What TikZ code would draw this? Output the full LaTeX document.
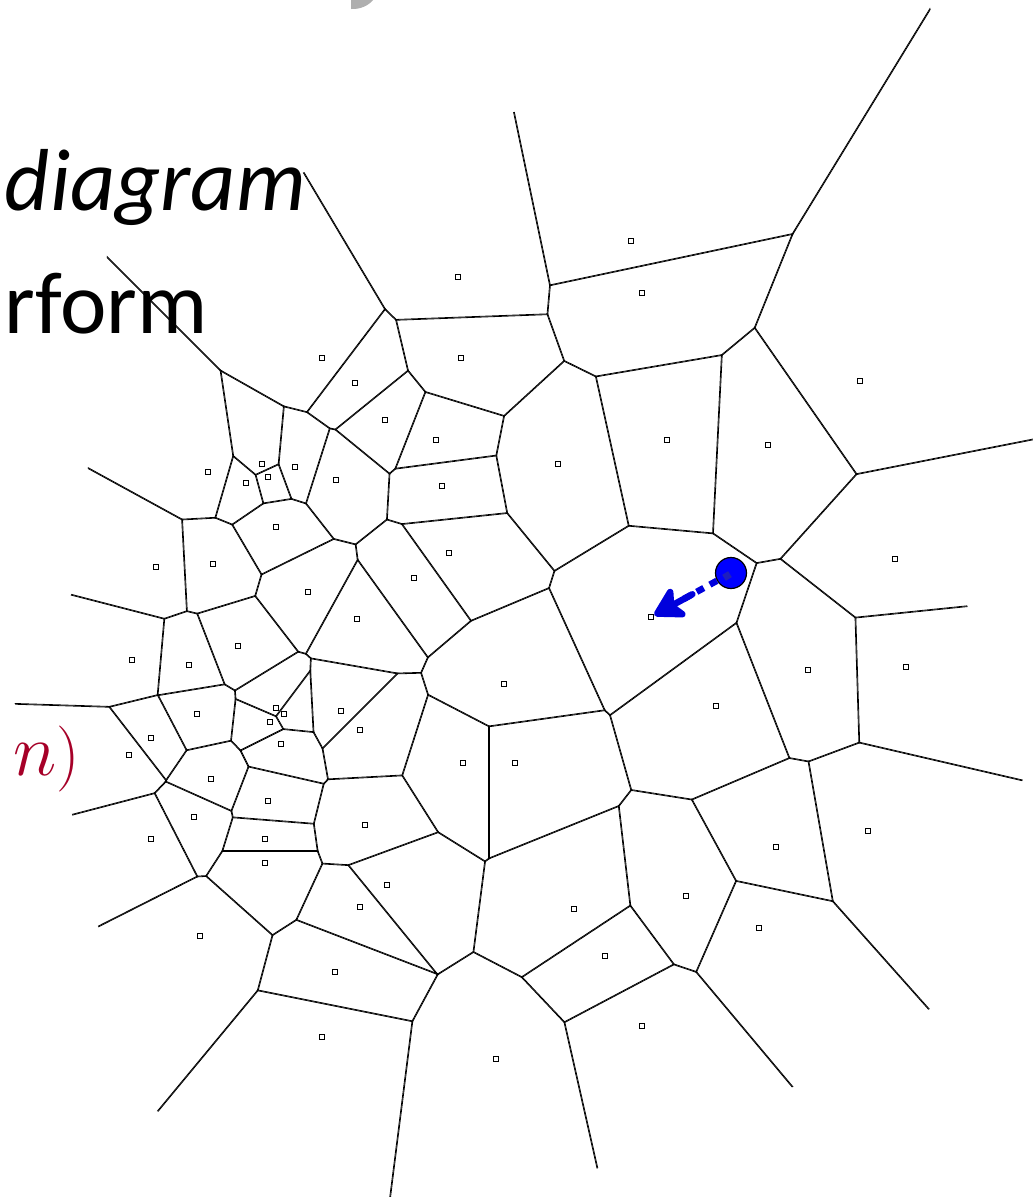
\RequirePackage{fix-cm}
\documentclass[tikz,border=0pt]{standalone}
\usepackage{fontspec}
\setmainfont{Carlito}
\usetikzlibrary{arrows.meta}
\definecolor{qblue}{RGB}{0,0,220}
\definecolor{dotblue}{RGB}{0,0,255}
\definecolor{markblue}{RGB}{30,30,190}
\definecolor{tred}{RGB}{166,0,40}
\definecolor{blobgray}{RGB}{175,175,175}

% half-plane / bisector geometry of two sites (pixel units, doubled)
\newcommand\vorcalc[4]{%
  \edef\vdx{\the\numexpr#1-(#3)\relax}%
  \edef\vdy{\the\numexpr#2-(#4)\relax}%
  \ifnum\vdx<0 \edef\vadx{\the\numexpr0-\vdx\relax}\else\let\vadx\vdx\fi
  \ifnum\vdy<0 \edef\vady{\the\numexpr0-\vdy\relax}\else\let\vady\vdy\fi
  \edef\vK{\the\numexpr4000/(\vadx+\vady)\relax}%
  \edef\vax{\the\numexpr#1+#3-2*\vK*\vdy\relax}%
  \edef\vay{\the\numexpr#2+#4+2*\vK*\vdx\relax}%
  \edef\vbx{\the\numexpr#1+#3+2*\vK*\vdy\relax}%
  \edef\vby{\the\numexpr#2+#4-2*\vK*\vdx\relax}%
  \edef\vnx{\the\numexpr2*\vK*\vdx\relax}%
  \edef\vny{\the\numexpr2*\vK*\vdy\relax}%
}
\newcommand\vorpt[2]{\pgfqpoint{\dimexpr\numexpr#1\relax pt/2\relax}{\dimexpr\numexpr0-(#2)\relax pt/2\relax}}

\def\vsites{631/241,458/277,642/293,322/358,461/358,355/383,860/381,385/420,436/440,667/440,768/445,208/472,262/464,295/467,268/477,246/483,336/480,442/486,558/464,276/527,449/553,156/567,213/564,895/559,414/578,308/592,357/619,651/617,238/646,132/660,189/665,504/684,808/670,906/667,716/706,197/714,276/708,284/714,270/722,341/711,360/730,151/738,129/755,281/744,463/763,515/763,211/779,268/801,194/817,365/825,151/839,265/839,868/831,776/847,265/863,387/885,686/896,360/907,574/909,759/928,200/936,605/956,335/972,642/1026,322/1037,496/1059}

\tikzset{
  site/.style={draw=black, fill=white, line width=1.3pt, minimum size=5.4pt, inner sep=0pt, rectangle},
  qdotstyle/.style={circle, fill=dotblue, draw=black, line width=1.2pt, minimum size=31pt, inner sep=0pt},
  qmarkstyle/.style={rectangle, fill=markblue, minimum size=7pt, inner sep=0pt, rotate=32},
  qdash/.style={draw=qblue, line width=6.5pt, dash pattern=on 8pt off 7pt, shorten >=29pt},
  qtip/.style={draw=qblue, fill=qblue, line width=6.5pt, line cap=round, shorten <=28pt,
    -{Stealth[length=35pt, width=40pt, inset=9pt, round]}},
  bigtext/.style={inner sep=0pt, font=\fontsize{88}{96}\selectfont},
}

\begin{document}
\begin{tikzpicture}[x=1pt, y=-1pt]
\path[use as bounding box, fill=white] (0,0) rectangle (1033,1197);

% grey fragment at the top
\fill[blobgray] (351,0) -- (351,9) .. controls (361,9.5) and (369,5) .. (373,0) -- cycle;

% slide texts
\node[bigtext, anchor=base east, font=\fontsize{88}{96}\selectfont\itshape] (tdiag) at (306,210) {diagram};
\node[bigtext, anchor=base east] (tform) at (208,333) {rform};
\node[anchor=base west, inner sep=0pt, text=tred] (tn) at (13,775)
  {{\fontsize{74}{80}\selectfont$n$}{\fontsize{66}{72}\selectfont$)$}};

% Voronoi diagram: each cell = intersection of half-planes, its bisectors drawn inside it
\begin{scope}[line width=1.6pt]
\clip (107,255) -- (307,171) -- (514,112) -- (927,-4) -- (1041,436) -- (967,605)
  -- (1023,779) -- (933,1007) -- (795,1086) -- (600,1168) -- (392,1203)
  -- (157,1111) -- (98,926) -- (72,814) -- (14,702) -- (73,591) -- (88,467) -- cycle;
\foreach \pxa/\pya in \vsites {%
  \begin{pgfscope}%
  \foreach \pxb/\pyb in \vsites {%
    \ifnum\numexpr(\pxa-\pxb)*(\pxa-\pxb)+(\pya-\pyb)*(\pya-\pyb)\relax>0
      \vorcalc{\pxa}{\pya}{\pxb}{\pyb}%
      \pgfpathmoveto{\vorpt{\vax}{\vay}}%
      \pgfpathlineto{\vorpt{\vbx}{\vby}}%
      \pgfpathlineto{\vorpt{\vbx+\vnx}{\vby+\vny}}%
      \pgfpathlineto{\vorpt{\vax+\vnx}{\vay+\vny}}%
      \pgfpathclose
      \pgfusepath{clip}%
    \fi}%
  \foreach \pxb/\pyb in \vsites {%
    \ifnum\numexpr(\pxa-\pxb)*(\pxa-\pxb)+(\pya-\pyb)*(\pya-\pyb)\relax>0
      \vorcalc{\pxa}{\pya}{\pxb}{\pyb}%
      \pgfpathmoveto{\vorpt{\vax}{\vay}}%
      \pgfpathlineto{\vorpt{\vbx}{\vby}}%
      \pgfusepath{stroke}%
    \fi}%
  \end{pgfscope}%
}
\end{scope}

% sites
\foreach \x/\y [count=\k] in \vsites {\node[site] (s\k) at (\x,\y) {};}

% query point and dotted arrow to its nearest site
\node[qdotstyle] (qdot) at (731,573) {};
\draw[qdash] (qdot) -- (s28);
\draw[qtip] (qdot) -- (s28);
\node[qmarkstyle] (qmark) at (727,576) {};
\end{tikzpicture}
\end{document}
